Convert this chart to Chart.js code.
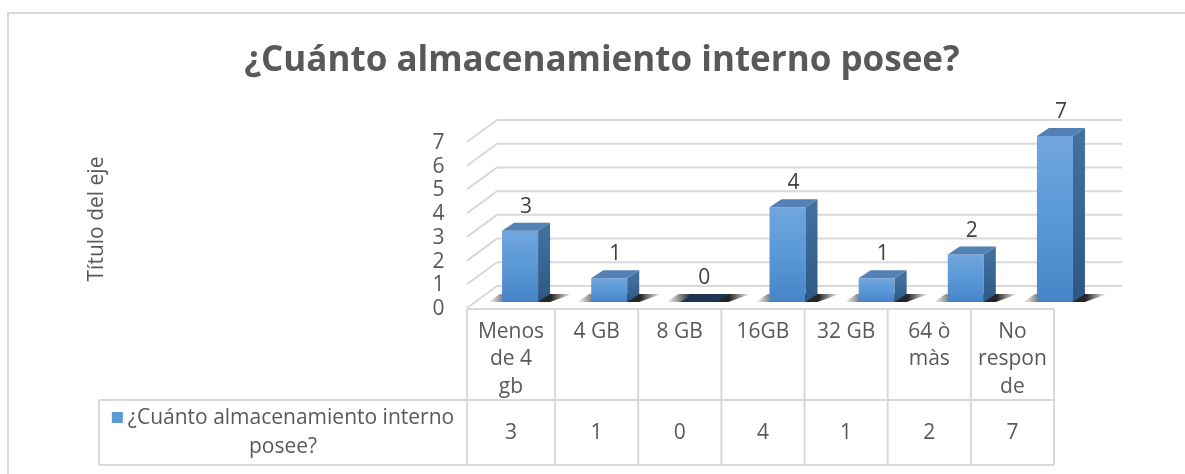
<!DOCTYPE html>
<html>
<head>
<meta charset="utf-8">
<script src="https://cdn.jsdelivr.net/npm/chart.js@4.4.1/dist/chart.umd.min.js"></script>
<style>
  html, body { margin: 0; padding: 0; background: #fff; }
  .canvas-box { position: relative; width: 1185px; height: 474px; }
</style>
</head>
<body>
<div class="canvas-box"><canvas id="storageChart"></canvas></div>
<script>
const chartTitle = '¿Cuánto almacenamiento interno posee?';
const axisTitle = 'Título del eje';
const seriesLabel = ['¿Cuánto almacenamiento interno', 'posee?'];
const categories = [['Menos', 'de 4', 'gb'], ['4 GB'], ['8 GB'], ['16GB'], ['32 GB'], ['64 ò', 'màs'], ['No', 'respon', 'de']];
const values = [3, 1, 0, 4, 1, 2, 7];
const yTicks = [0, 1, 2, 3, 4, 5, 6, 7];

const FONT = '"Open Sans", "Liberation Sans", sans-serif';
const TEXT = '#595959';
const GRID = '#d9d9d9';
const DX = 12, DY = 8; // bar depth

// frame, title, back wall grid and bar shadows
const backdrop = {
  id: 'backdrop',
  beforeDatasetsDraw(chart) {
    const { ctx, chartArea, scales: { y } } = chart;
    ctx.save();
    // outer frame
    ctx.strokeStyle = GRID;
    ctx.lineWidth = 2;
    ctx.beginPath();
    ctx.moveTo(chart.width + 5, 13);
    ctx.lineTo(8, 13);
    ctx.lineTo(8, chart.height + 5);
    ctx.stroke();

    // title
    ctx.fillStyle = TEXT;
    ctx.font = 'bold 35px ' + FONT;
    ctx.textAlign = 'center';
    ctx.textBaseline = 'middle';
    ctx.fillText(chartTitle, 602, 61);

    // 3d wall grid
    const fl = chartArea.left - 8.5, bl = chartArea.left + 21.5, br = chartArea.right + 22.5;
    ctx.strokeStyle = GRID;
    ctx.lineWidth = 2;
    yTicks.forEach(t => {
      const p = y.getPixelForValue(t);
      ctx.beginPath();
      ctx.moveTo(fl, p + 6);
      ctx.lineTo(bl, p - 16);
      ctx.lineTo(br, p - 16);
      ctx.stroke();
    });

    // shadows under bars
    const meta = chart.getDatasetMeta(0);
    meta.data.forEach(bar => {
      const x = bar.x, b = bar.base, hw = bar.width / 2;
      if (!isFinite(x) || !isFinite(b) || !isFinite(hw)) return;
      const g = ctx.createLinearGradient(x - hw - 14, 0, x + hw + DX + 22, 0);
      g.addColorStop(0, 'rgba(0,0,0,0)');
      g.addColorStop(0.3, 'rgba(0,0,0,0.85)');
      g.addColorStop(0.75, 'rgba(0,0,0,0.85)');
      g.addColorStop(1, 'rgba(0,0,0,0)');
      ctx.fillStyle = g;
      ctx.beginPath();
      ctx.moveTo(x - hw - 14, b);
      ctx.lineTo(x + hw + 12, b);
      ctx.lineTo(x + hw + DX + 22, b - DY);
      ctx.lineTo(x - hw - 2, b - DY);
      ctx.closePath();
      ctx.fill();
    });
    ctx.restore();
  }
};

// side/top faces, value labels and data table
const extrude = {
  id: 'extrude',
  afterDatasetsDraw(chart) {
    const { ctx } = chart;
    const meta = chart.getDatasetMeta(0);
    ctx.save();
    meta.data.forEach((bar, i) => {
      const x = bar.x, top = bar.y, b = bar.base, hw = bar.width / 2;
      if (!isFinite(x) || !isFinite(top) || !isFinite(b)) return;
      if (b - top > 0.5) {
        const sg = ctx.createLinearGradient(0, top, 0, b);
        sg.addColorStop(0, '#41709f');
        sg.addColorStop(1, '#2d5886');
        ctx.fillStyle = sg;
        ctx.beginPath();
        ctx.moveTo(x + hw, top);
        ctx.lineTo(x + hw + DX, top - DY);
        ctx.lineTo(x + hw + DX, b - DY);
        ctx.lineTo(x + hw, b);
        ctx.closePath();
        ctx.fill();
        ctx.fillStyle = '#5481b5';
      } else {
        ctx.fillStyle = '#1f3552';
      }
      ctx.beginPath();
      ctx.moveTo(x - hw, top);
      ctx.lineTo(x + hw, top);
      ctx.lineTo(x + hw + DX, top - DY);
      ctx.lineTo(x - hw + DX, top - DY);
      ctx.closePath();
      ctx.fill();

      ctx.fillStyle = '#404040';
      ctx.font = '21px ' + FONT;
      ctx.textAlign = 'center';
      ctx.textBaseline = 'middle';
      ctx.fillText(String(values[i]), x + DX / 2, top - DY - 16);
    });
    ctx.restore();
  },
  afterDraw(chart) {
    const { ctx, chartArea } = chart;
    const left = chartArea.left - 8.5, right = chartArea.right - 45.5;
    const first = left + 88;
    const cols = [left];
    for (let k = 0; k < categories.length; k++) cols.push(first + (right - first) / (categories.length - 1) * k);
    const rTop = 309, rMid = 400, rBot = 465, legendLeft = 99;

    ctx.save();
    ctx.strokeStyle = GRID;
    ctx.lineWidth = 2;
    ctx.beginPath();
    ctx.moveTo(left, rTop); ctx.lineTo(right, rTop);
    ctx.moveTo(legendLeft, rMid); ctx.lineTo(right, rMid);
    ctx.moveTo(legendLeft, rBot); ctx.lineTo(right, rBot);
    ctx.moveTo(legendLeft, rMid); ctx.lineTo(legendLeft, rBot);
    cols.forEach(c => { ctx.moveTo(c, rTop); ctx.lineTo(c, rBot); });
    ctx.stroke();

    ctx.fillStyle = TEXT;
    ctx.font = '21px ' + FONT;
    ctx.textAlign = 'center';
    ctx.textBaseline = 'middle';
    categories.forEach((lines, i) => {
      const cx = (cols[i] + cols[i + 1]) / 2;
      lines.forEach((ln, j) => ctx.fillText(ln, cx, 332 + j * 27.5));
      ctx.fillText(String(values[i]), cx, 433);
    });

    // series legend cell
    const cx = (legendLeft + left) / 2;
    const w1 = ctx.measureText(seriesLabel[0]).width + 16;
    const sx = cx - w1 / 2;
    ctx.fillStyle = '#5b9bd5';
    ctx.fillRect(sx, 412, 11, 11);
    ctx.fillStyle = TEXT;
    ctx.textAlign = 'left';
    ctx.fillText(seriesLabel[0], sx + 16, 418);
    ctx.textAlign = 'center';
    ctx.fillText(seriesLabel[1], cx, 447);
    ctx.restore();
  }
};

function barFill(c) {
  const y = c.chart.scales.y;
  if (!y || c.raw === undefined) return '#5b9bd5';
  const t = y.getPixelForValue(c.raw), b = y.getPixelForValue(0);
  if (!isFinite(t) || !isFinite(b) || b - t < 1) return '#5b9bd5';
  const g = c.chart.ctx.createLinearGradient(0, t, 0, b);
  g.addColorStop(0, '#70a6dd');
  g.addColorStop(0.5, '#5a98d8');
  g.addColorStop(1, '#4684c6');
  return g;
}

const ctx = document.getElementById('storageChart').getContext('2d');
new Chart(ctx, {
  type: 'bar',
  data: {
    labels: categories,
    datasets: [{
      label: seriesLabel.join(' '),
      data: values,
      barPercentage: 0.404,
      categoryPercentage: 1,
      borderWidth: 0,
      backgroundColor: barFill
    }]
  },
  options: {
    responsive: true,
    maintainAspectRatio: false,
    animation: false,
    layout: { padding: { left: 0, right: 85.5, top: 136, bottom: 172 } },
    plugins: {
      legend: { display: false },
      title: { display: false },
      tooltip: { enabled: false }
    },
    scales: {
      x: { display: false },
      y: {
        min: 0,
        max: 7,
        afterFit: (s) => { s.width = 475.5; },
        afterBuildTicks: (s) => { s.ticks = yTicks.map(v => ({ value: v })); },
        ticks: { autoSkip: false, padding: 31, labelOffset: 7, color: TEXT, font: { family: FONT, size: 21 } },
        grid: { display: false, drawTicks: false },
        border: { display: false },
        title: { display: true, text: axisTitle, color: TEXT, font: { family: FONT, size: 21 }, padding: { top: 84 } }
      }
    }
  },
  plugins: [backdrop, extrude]
});
</script>
</body>
</html>
